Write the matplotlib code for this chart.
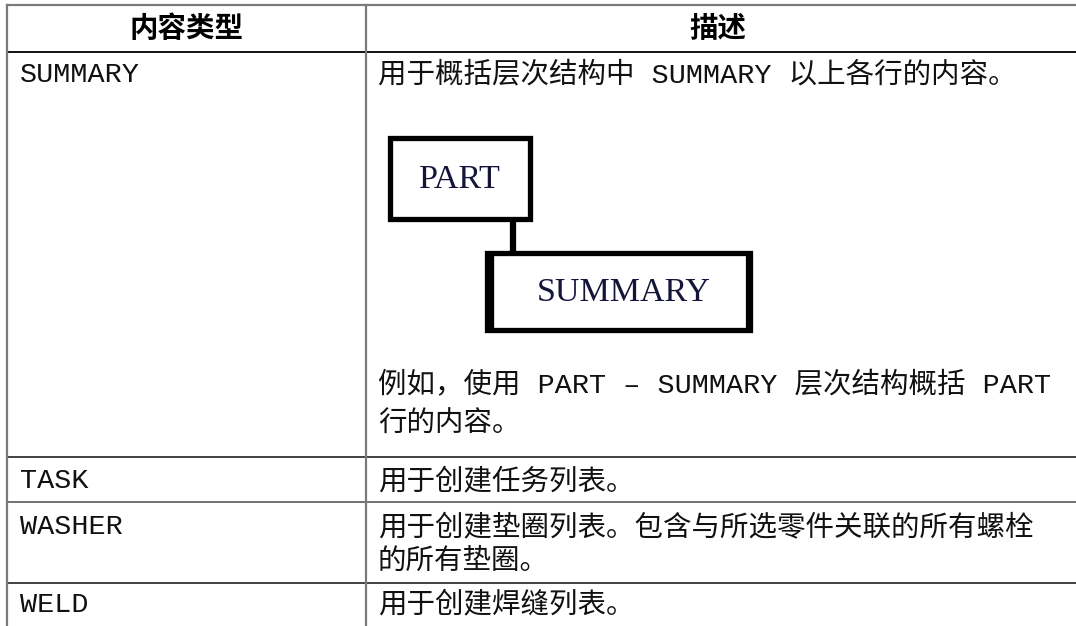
import matplotlib as mpl
import matplotlib.pyplot as plt
from matplotlib.patches import Rectangle

mpl.use('AGG')

# Table content ----------------------------------------------------------------------------------
headers = ['内容类型', '描述']
content_types = ['SUMMARY', 'TASK', 'WASHER', 'WELD']
descriptions = [
	['用于概括层次结构中 SUMMARY 以上各行的内容。'],
	['用于创建任务列表。'],
	['用于创建垫圈列表。包含与所选零件关联的所有螺栓', '的所有垫圈。'],
	['用于创建焊缝列表。'],
]
example_lines = ['例如，使用 PART – SUMMARY 层次结构概括 PART', '行的内容。']
diagram_labels = ['PART', 'SUMMARY']

# Layout (pixels) -------------------------------------------------------------------------------
W, H = 1076, 626
col_edges = [7, 366, 1080]
row_edges = [5, 52, 457, 502, 583, 660]
line_gap = 34
text_pad = 12
body_font = ['Liberation Mono', 'Noto Sans CJK SC', 'DejaVu Sans']
body_size = 20.5
grey = '#7a7a7a'

fig = plt.figure(figsize=(W / 100, H / 100), dpi=100, facecolor='white')
ax = fig.add_axes([0, 0, 1, 1])
ax.set_xlim(0, W)
ax.set_ylim(H, 0)
ax.axis('off')

# Grid lines
ax.plot([col_edges[0], col_edges[-1]], [row_edges[0]] * 2, color=grey, lw=1.6)
ax.plot([col_edges[0], col_edges[-1]], [row_edges[1]] * 2, color='black', lw=1.3)
for (i, y) in enumerate(row_edges[2:-1]):
	ax.plot([col_edges[0], col_edges[-1]], [y, y], color='#333333' if i != 1 else '#666666', lw=1.3)
for x in col_edges[:-1]:
	ax.plot([x, x], [row_edges[0], H], color=grey, lw=1.6)

# Header
for (j, label) in enumerate(headers):
	xc = (col_edges[j] + min(col_edges[j + 1], 1070)) / 2
	ax.text(xc, (row_edges[0] + row_edges[1]) / 2 + 1, label,
		family=['Noto Sans CJK SC'], fontweight='bold', fontsize=20.5,
		ha='center', va='center', color='black'
	)

# Rows
for (i, ctype) in enumerate(content_types):
	top = row_edges[i + 1]
	if i == 0:
		y0 = top + 23
	else:
		n = len(descriptions[i])
		y0 = (top + row_edges[i + 2]) / 2 - (n - 1) * line_gap / 2 + 2
		if i == len(content_types) - 1:
			y0 = top + 22
	ax.text(col_edges[0] + 13, y0, ctype, family=body_font, fontsize=body_size,
		ha='left', va='center', color='#111111'
	)
	for (k, line) in enumerate(descriptions[i]):
		ax.text(col_edges[1] + text_pad, y0 + k * line_gap, line, family=body_font,
			fontsize=body_size, ha='left', va='center', color='#111111'
		)

# Example lines under the diagram
for (k, line) in enumerate(example_lines):
	ax.text(col_edges[1] + text_pad, 386 + k * 39, line, family=body_font,
		fontsize=body_size, ha='left', va='center', color='#111111'
	)

# PART -> SUMMARY diagram
part_box = (390, 138, 140, 81)
summ_box = (487, 253, 263, 77)
ax.plot([513, 513], [part_box[1] + part_box[3], summ_box[1]], color='black', lw=4.5,
	solid_capstyle='butt')
for (bx, by, bw, bh) in (part_box, summ_box):
	ax.add_patch(Rectangle((bx, by), bw, bh, fill=True, facecolor='white',
		edgecolor='black', lw=3.8, joinstyle='miter'))
ax.plot([summ_box[0] + 3, summ_box[0] + 3], [summ_box[1], summ_box[1] + summ_box[3]],
	color='black', lw=6, solid_capstyle='butt')
ax.plot([summ_box[0] + summ_box[2] - 1, summ_box[0] + summ_box[2] - 1],
	[summ_box[1], summ_box[1] + summ_box[3]], color='black', lw=4.5, solid_capstyle='butt')

for ((bx, by, bw, bh), label) in zip((part_box, summ_box), diagram_labels):
	ax.text(bx + bw / 2 + (5 if label == 'SUMMARY' else 0), by + bh / 2 + 1, label,
		family=['Liberation Serif'], fontsize=24.5, ha='center', va='center', color='#15153a'
	)

fig.savefig('out.png', dpi=100, facecolor='white')
plt.close()
